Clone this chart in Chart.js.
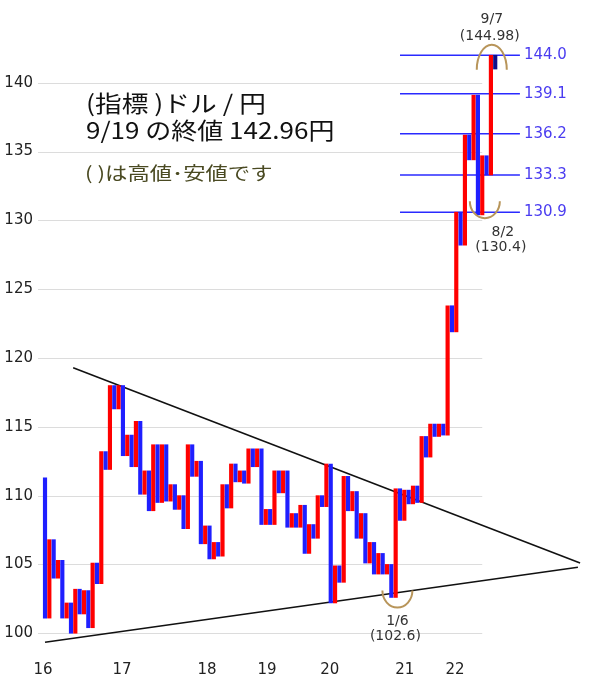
<!DOCTYPE html>
<html>
<head>
<meta charset="utf-8">
<script src="https://cdn.jsdelivr.net/npm/chart.js@4.4.1/dist/chart.umd.min.js"></script>
<style>
html, body { margin: 0; padding: 0; background: #fff; }
#wrap { width: 600px; height: 686px; }
</style>
</head>
<body>
<div id="wrap"><canvas id="canvas1"></canvas></div>
<script>
// each bar runs from one turning value to the next (red = up, blue = down)
let turns = [111.3,
  101.1, 106.8, 104.0, 105.3, 101.1, 102.2, 100.0, 103.2, 101.4, 103.1,
  100.4, 105.1, 103.6, 113.2, 111.9, 118.0, 116.3, 118.0, 112.9, 114.4,
  112.1, 115.4, 110.1, 111.8, 108.9, 113.7, 109.5, 113.7, 109.6, 110.8,
  109.0, 110.0, 107.6, 113.7, 111.4, 112.5, 106.5, 107.8, 105.4, 106.6,
  105.6, 110.8, 109.1, 112.3, 111.0, 111.8, 110.9, 113.4, 112.1, 113.4,
  107.9, 109.0, 107.9, 111.8, 110.2, 111.8, 107.7, 108.7, 107.7, 109.3,
  105.8, 107.9, 106.9, 110.0, 109.2, 112.3, 102.2, 104.9, 103.7, 111.4,
  108.9, 110.3, 106.9, 108.7, 105.1, 106.6, 104.3, 105.8, 104.3, 105.0,
  102.6, 110.5, 108.2, 110.4, 109.4, 110.7, 109.5, 114.3, 112.8, 115.2,
  114.3, 115.2, 114.4, 123.8, 121.9, 130.6, 128.2, 136.2, 134.4, 139.1,
  130.4, 134.7, 133.3, 142.0, 141.0];

let yearLabels = ['16', '17', '18', '19', '20', '21', '22'];
let yearPos = [-0.46, 17.8, 37.4, 51.3, 65.8, 83.1, 94.7];
let yTicks = [100, 105, 110, 115, 120, 125, 130, 135, 140];

let upperTrend = [[6.5, 119.3], [123.6, 105.1]];
let lowerTrend = [[0, 99.35], [123.1, 104.8]];

let levelLabels = ['144.0', '139.1', '136.2', '133.3', '130.9'];
let levelValues = [142.0, 139.2, 136.3, 133.3, 130.6];
let levelFrom = 82.0, levelTo = 109.7;

let noteDates = ['9/7', '8/2', '1/6'];
let notePrices = ['(144.98)', '(130.4)', '(102.6)'];
let noteX = [103.2, 101.6, 81.4];
let noteY = [140.95, 131.4, 103.1];
let noteIsHigh = [true, false, false];

let titleLines = ['(指標 )ドル / 円', '9/19 の終値 142.96円'];
let subTitle = '( )は高値･安値です';

let barData = [];
let barColors = [];
for (let i = 0; i < turns.length - 1; i++) {
  barData.push({ x: i, y: [turns[i], turns[i + 1]] });
  barColors.push(turns[i + 1] > turns[i] ? '#ff0000' : '#1f1fff');
}
barColors[barColors.length - 1] = '#10108a';

let lineSet = function(pts, color, w) {
  return {
    type: 'line',
    data: pts.map(function(p) { return { x: p[0], y: p[1] }; }),
    borderColor: color,
    borderWidth: w,
    pointRadius: 0,
    fill: false
  };
};

let datasets = [{
  type: 'bar',
  data: barData,
  backgroundColor: barColors,
  barThickness: 3.5,
  grouped: false
}];
datasets.push(lineSet(upperTrend, '#111', 1.6));
datasets.push(lineSet(lowerTrend, '#111', 1.6));
levelValues.forEach(function(v) {
  datasets.push(lineSet([[levelFrom, v], [levelTo, v]], '#2a2aff', 1.5));
});

let gridPlugin = {
  id: 'shortGrid',
  beforeDatasetsDraw: function(chart) {
    let ctx = chart.ctx, ys = chart.scales.y, xs = chart.scales.x;
    ctx.save();
    ctx.strokeStyle = '#dcdcdc';
    ctx.lineWidth = 1;
    yTicks.forEach(function(t) {
      let py = Math.round(ys.getPixelForValue(t)) + 0.5;
      ctx.beginPath();
      ctx.moveTo(chart.chartArea.left, py);
      ctx.lineTo(xs.getPixelForValue(101), py);
      ctx.stroke();
    });
    ctx.restore();
  }
};

// text drawn a bit wider, like the original picture
function wideText(ctx, txt, x, y, sx) {
  ctx.save();
  ctx.translate(x, y);
  ctx.scale(sx, 1);
  ctx.fillText(txt, 0, 0);
  ctx.restore();
}

let notePlugin = {
  id: 'notes',
  afterDatasetsDraw: function(chart) {
    let ctx = chart.ctx, ys = chart.scales.y, xs = chart.scales.x;
    ctx.save();
    ctx.fillStyle = '#111';
    ctx.font = '23px "Noto Sans CJK JP"';
    ctx.textBaseline = 'middle';
    ctx.textAlign = 'left';
    wideText(ctx, titleLines[0], 86, 103, 1.16);
    wideText(ctx, titleLines[1], 86, 130, 1.13);
    ctx.fillStyle = '#4a4a22';
    ctx.font = '18px "Noto Sans CJK JP"';
    wideText(ctx, subTitle, 85, 173, 1.24);

    // level labels
    ctx.fillStyle = '#4a3cf0';
    ctx.font = '15px "DejaVu Sans"';
    levelValues.forEach(function(v, i) {
      ctx.fillText(levelLabels[i], xs.getPixelForValue(levelTo) + 4, ys.getPixelForValue(v));
    });

    // high / low notes
    ctx.textAlign = 'center';
    noteDates.forEach(function(d, i) {
      let cx = xs.getPixelForValue(noteX[i]), cy = ys.getPixelForValue(noteY[i]);
      ctx.strokeStyle = '#b8955a';
      ctx.lineWidth = 2;
      ctx.beginPath();
      if (noteIsHigh[i]) {
        ctx.ellipse(cx, cy, 15, 25, 0, Math.PI, 2 * Math.PI);
      } else {
        ctx.ellipse(cx, cy, 15, 17, 0, 0, Math.PI);
      }
      ctx.stroke();
      ctx.fillStyle = '#333';
      ctx.font = '14px "DejaVu Sans"';
      if (noteIsHigh[i]) {
        ctx.fillText(d, cx, cy - 50);
        ctx.fillText(notePrices[i], cx - 2, cy - 33);
      } else {
        let tx = i == 1 ? cx + 18 : cx;
        ctx.fillText(d, tx, cy + 31);
        ctx.fillText(notePrices[i], tx - 2, cy + 46);
      }
    });
    ctx.restore();
  }
};

let chart = new Chart(document.getElementById('canvas1'), {
  data: { datasets: datasets },
  plugins: [gridPlugin, notePlugin],
  options: {
    responsive: true,
    maintainAspectRatio: false,
    animation: false,
    layout: { padding: { top: 10, left: 0, right: 0, bottom: 0 } },
    plugins: { legend: { display: false }, tooltip: { enabled: false } },
    scales: {
      x: {
        type: 'linear',
        min: -1.62,
        max: 128.2,
        offset: false,
        grid: { display: false, drawTicks: false, offset: false },
        border: { display: false },
        afterBuildTicks: function(scale) {
          scale.ticks = yearPos.map(function(v) { return { value: v }; });
        },
        afterFit: function(scale) { scale.height = 39; },
        ticks: {
          autoSkip: false,
          maxRotation: 0,
          padding: 14,
          color: '#222',
          font: { family: 'DejaVu Sans', size: 15 },
          callback: function(v, i) { return yearLabels[i]; }
        }
      },
      y: {
        min: 99,
        max: 145,
        grid: { display: false, drawTicks: false },
        border: { display: false },
        afterBuildTicks: function(scale) {
          scale.ticks = yTicks.map(function(v) { return { value: v }; });
        },
        afterFit: function(scale) { scale.width = 38; },
        ticks: {
          padding: 5,
          color: '#222',
          font: { family: 'DejaVu Sans', size: 15 }
        }
      }
    }
  }
});
</script>
</body>
</html>
